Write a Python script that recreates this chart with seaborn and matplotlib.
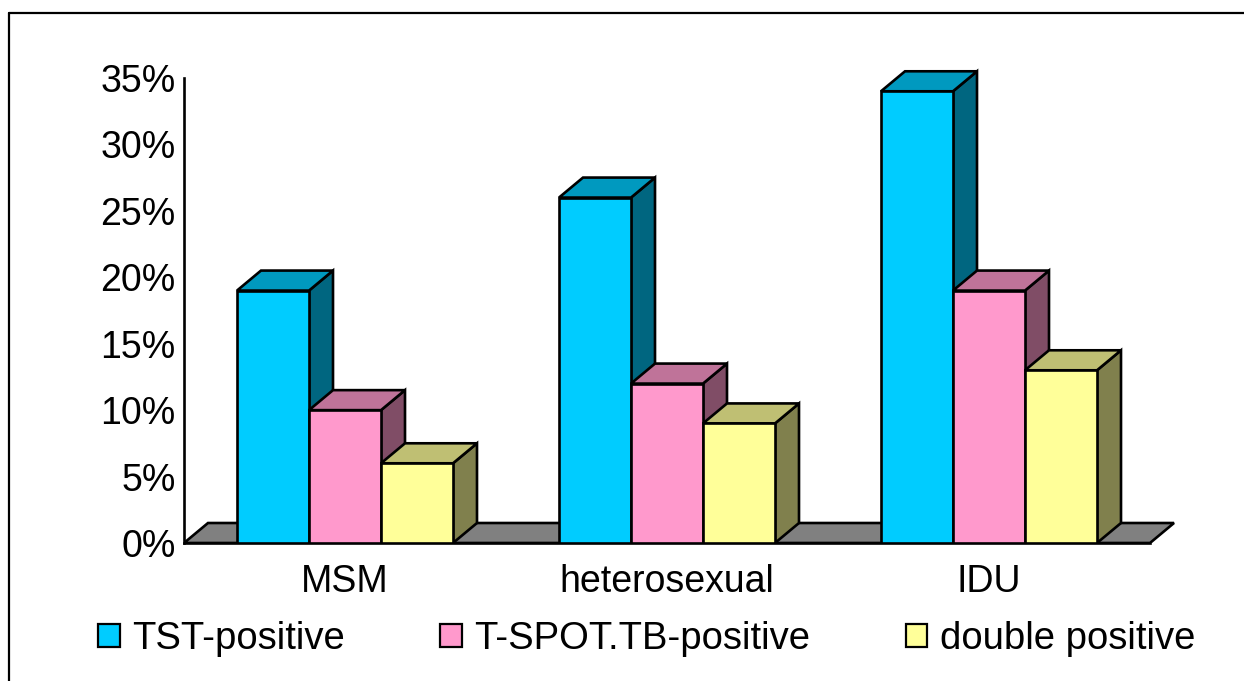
import matplotlib
matplotlib.use("Agg")
import matplotlib.pyplot as plt
from matplotlib.patches import Polygon, Rectangle
from matplotlib.lines import Line2D
from matplotlib.colors import to_rgb
import numpy as np
import pandas as pd
import seaborn as sns

# Data (percent of participants)
groups = ["MSM", "heterosexual", "IDU"]
series = ["TST-positive", "T-SPOT.TB-positive", "double positive"]
tst_positive = [19, 26, 34]
tspot_positive = [10, 12, 19]
double_positive = [6, 9, 13]
yticks = [0, 5, 10, 15, 20, 25, 30, 35]

front_colors = ["#00CCFF", "#FF99CC", "#FFFF99"]

sns.set_style("white")
plt.rcParams["font.family"] = ["Liberation Sans", "DejaVu Sans"]
plt.rcParams["text.color"] = "black"

df = pd.DataFrame({
    "group": groups * 3,
    "series": np.repeat(series, len(groups)),
    "value": tst_positive + tspot_positive + double_positive,
})

W, H = 1244, 681
fig = plt.figure(figsize=(W / 100, H / 100), dpi=100)

# axes geometry in pixels: one category = 322 px, 35 % = 465 px
cat_px = 322.0
pct_px = 465.0 / 35.0
left_px, right_px, zero_px, top_px = 184, 1190, 543, 60
ax = fig.add_axes([left_px / W, (H - zero_px) / H,
                   (right_px - left_px) / W, (zero_px - top_px) / H])

LW = 1.9
group_width = 3 * 72 / cat_px
sns.barplot(data=df, x="group", y="value", hue="series", order=groups,
            hue_order=series, palette=front_colors, saturation=1,
            width=group_width, errorbar=None, edgecolor="black",
            linewidth=LW, legend=False, ax=ax)

ax.set_xlim(-0.5, -0.5 + (right_px - left_px) / cat_px)
ax.set_ylim(0, (zero_px - top_px) / pct_px)

# depth of the pseudo-3D extrusion (in data units)
ddx = 24 / cat_px
ddy = 20 / pct_px

# floor
floor = Polygon([(-0.5, 0), (2.5, 0), (2.5 + ddx, ddy), (-0.5 + ddx, ddy)],
                closed=True, facecolor="#808080", edgecolor="black",
                linewidth=LW, zorder=1)
ax.add_patch(floor)

# side and top faces for each bar, layered left to right
bars = sorted([p for p in ax.patches if p is not floor], key=lambda p: p.get_x())
for i, bar in enumerate(bars):
    x0, w, h = bar.get_x(), bar.get_width(), bar.get_height()
    rgb = np.array(to_rgb(bar.get_facecolor()))
    base = 3 + 3 * i
    side = Polygon([(x0 + w, 0), (x0 + w + ddx, ddy), (x0 + w + ddx, h + ddy),
                    (x0 + w, h)], closed=True, facecolor=rgb * 0.5,
                   edgecolor="black", linewidth=LW, zorder=base)
    top = Polygon([(x0, h), (x0 + w, h), (x0 + w + ddx, h + ddy),
                   (x0 + ddx, h + ddy)], closed=True, facecolor=rgb * 0.75,
                  edgecolor="black", linewidth=LW, zorder=base + 1)
    ax.add_patch(side)
    ax.add_patch(top)
    bar.set_zorder(base + 2)

# axes styling
for s in ["top", "right"]:
    ax.spines[s].set_visible(False)
ax.spines["left"].set_bounds(0, 35)
ax.spines["bottom"].set_bounds(-0.5, 2.5)
for s in ["left", "bottom"]:
    ax.spines[s].set_linewidth(LW)
    ax.spines[s].set_color("black")
    ax.spines[s].set_zorder(2)

ax.set_yticks(yticks)
ax.set_yticklabels([f"{v}%" for v in yticks])
ax.tick_params(axis="y", direction="in", length=8, width=LW, labelsize=27,
               pad=6, colors="black")
ax.set_xticks(range(len(groups)))
ax.set_xticklabels(groups)
ax.set_xticks([0.5, 1.5, 2.5], minor=True)
ax.tick_params(axis="x", which="major", length=0, labelsize=27, pad=15,
               colors="black")
ax.tick_params(axis="x", which="minor", direction="in", length=8, width=LW,
               color="black")
ax.set_xlabel("")
ax.set_ylabel("")
ax.grid(False)

# legend
handles = [Rectangle((0, 0), 1, 1, facecolor=c, edgecolor="black", linewidth=1.6)
           for c in front_colors]
fig.legend(handles, series, loc="center left",
           bbox_to_anchor=(98 / W, 1 - 639 / H), ncol=3, frameon=False,
           fontsize=27.5, labelcolor="black", handlelength=0.57,
           handleheight=0.57, handletextpad=0.32, columnspacing=2.5,
           borderaxespad=0, borderpad=0)

# outer frame
fig.add_artist(Line2D([9 / W, 9 / W], [0, 1 - 13 / H], transform=fig.transFigure,
                      color="black", linewidth=1.6))
fig.add_artist(Line2D([9 / W, 1], [1 - 13 / H, 1 - 13 / H],
                      transform=fig.transFigure, color="black", linewidth=1.6))

fig.savefig("out.png", dpi=100)
